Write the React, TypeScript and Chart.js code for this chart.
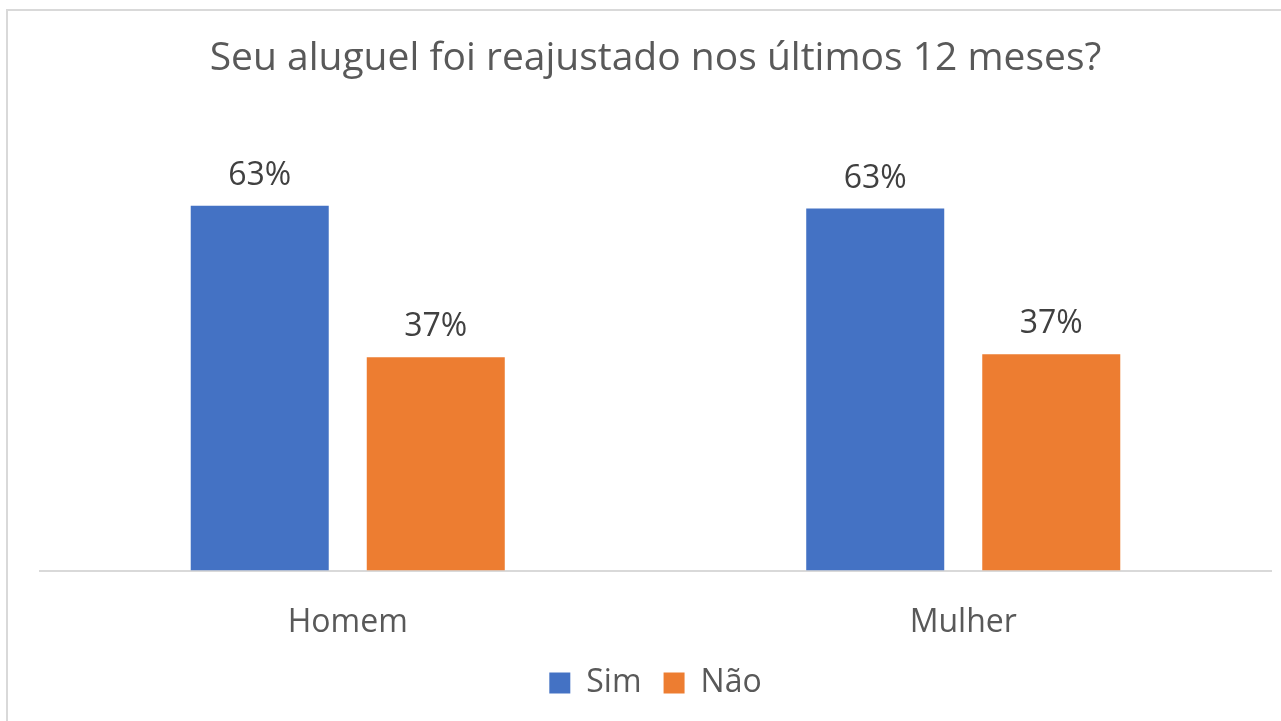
import React, { useEffect, useRef } from "react";
import { Chart, registerables } from "chart.js";

Chart.register(...registerables);

const TITLE = "Seu aluguel foi reajustado nos últimos 12 meses?";
const categories = ["Homem", "Mulher"];
const seriesNames = ["Sim", "Não"];
const simValues = [63.1, 62.6];
const naoValues = [36.9, 37.4];
const seriesColors = ["#4472C4", "#ED7D31"];

const FONT = "'Open Sans', 'Noto Sans', sans-serif";

const dataLabelPlugin = {
  id: "dataLabels",
  afterDatasetsDraw(chart: any) {
    const ctx = chart.ctx;
    ctx.save();
    ctx.font = `32px ${FONT}`;
    ctx.fillStyle = "#404040";
    ctx.textAlign = "center";
    ctx.textBaseline = "alphabetic";
    chart.data.datasets.forEach((ds: any, i: number) => {
      const meta = chart.getDatasetMeta(i);
      meta.data.forEach((el: any, j: number) => {
        const v = ds.data[j];
        ctx.fillText(`${Math.round(v)}%`, el.x, el.y - 21);
      });
    });
    ctx.restore();
  },
};

export default function App() {
  const ref = useRef<HTMLCanvasElement | null>(null);
  useEffect(() => {
    if (!ref.current) return;
    const chart = new Chart(ref.current, {
      type: "bar",
      data: {
        labels: categories,
        datasets: [
          {
            label: seriesNames[0],
            data: simValues,
            backgroundColor: seriesColors[0],
            categoryPercentage: 0.572,
            barPercentage: 0.784,
          },
          {
            label: seriesNames[1],
            data: naoValues,
            backgroundColor: seriesColors[1],
            categoryPercentage: 0.572,
            barPercentage: 0.784,
          },
        ],
      },
      options: {
        animation: false,
        responsive: false,
        maintainAspectRatio: false,
        layout: { padding: { left: 40, right: 10, top: 0, bottom: 12 } },
        scales: {
          x: {
            grid: { display: false, drawTicks: false },
            border: { display: true, color: "#d9d9d9", width: 2 },
            ticks: {
              color: "#595959",
              font: { family: FONT, size: 32 },
              padding: 33,
            },
            afterFit(scale: any) {
              scale.height = scale.height - 30;
            },
          },
          y: {
            display: false,
            min: 0,
            max: 70,
          },
        },
        plugins: {
          title: {
            display: true,
            text: TITLE,
            color: "#595959",
            font: { family: FONT, size: 39, weight: "normal" },
            padding: { top: 35, bottom: 84 },
          },
          legend: {
            display: true,
            position: "bottom",
            labels: {
              color: "#595959",
              font: { family: FONT, size: 32 },
              boxWidth: 21,
              boxHeight: 21,
              padding: 22,
            },
          },
          tooltip: { enabled: false },
        },
      },
      plugins: [dataLabelPlugin],
    });
    return () => chart.destroy();
  }, []);

  return (
    <div
      style={{
        position: "fixed",
        left: 0,
        top: 0,
        width: 1281,
        height: 721,
        overflow: "hidden",
        background: "#ffffff",
      }}
    >
      <div
        style={{
          position: "absolute",
          left: 6,
          top: 9,
          width: 1300,
          height: 760,
          border: "2px solid #d9d9d9",
          boxSizing: "border-box",
        }}
      />
      <canvas
        ref={ref}
        width={1281}
        height={721}
        style={{ position: "absolute", left: 0, top: 0, width: 1281, height: 721 }}
      />
    </div>
  );
}
